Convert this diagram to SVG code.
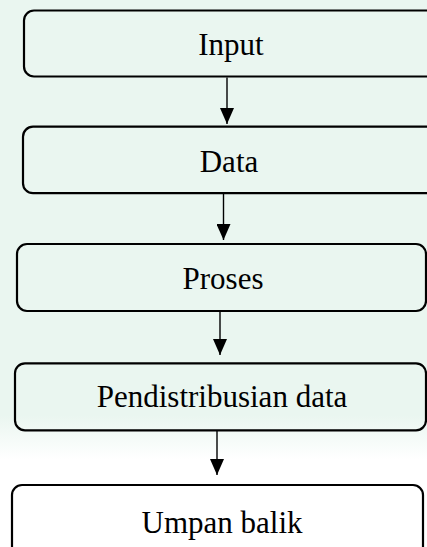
<svg xmlns="http://www.w3.org/2000/svg" width="427" height="547" viewBox="0 0 427 547">
<defs>
<linearGradient id="bg" x1="0" y1="0" x2="0" y2="1">
<stop offset="0" stop-color="#eaf6f0"/>
<stop offset="0.76" stop-color="#eaf6f0"/>
<stop offset="0.84" stop-color="#ffffff"/>
<stop offset="1" stop-color="#ffffff"/>
</linearGradient>
<marker id="ah" markerWidth="16" markerHeight="14" refX="16" refY="7" orient="auto" markerUnits="userSpaceOnUse" viewBox="0 0 16 14">
<path d="M0,0 L16,7 L0,14 Z" fill="#000"/>
</marker>
<style>
.box{fill:none;stroke:#000;stroke-width:2.2}
.lbl{font-family:"Liberation Serif","Times New Roman",serif;font-size:31px;fill:#000;text-anchor:middle}
.con{stroke:#000;stroke-width:1.4;fill:none}
</style>
</defs>
<rect width="427" height="547" fill="url(#bg)"/>
<g id="n1"><rect class="box" x="24" y="10.5" width="430" height="66" rx="10"/><text class="lbl" x="231" y="55">Input</text></g>
<g id="n2"><rect class="box" x="23" y="126.7" width="430" height="66.5" rx="10"/><text class="lbl" x="229" y="171.5">Data</text></g>
<g id="n3"><rect class="box" x="17" y="244" width="409" height="67" rx="10"/><text class="lbl" x="223" y="289">Proses</text></g>
<g id="n4"><rect class="box" x="15" y="363.3" width="411" height="67" rx="10"/><text class="lbl" x="222" y="406.5">Pendistribusian data</text></g>
<g id="n5"><rect class="box" x="12" y="485" width="411" height="80" rx="10"/><text class="lbl" x="222" y="533">Umpan balik</text></g>
<g id="connectors">
<line class="con" x1="227" y1="77.5" x2="227" y2="124" marker-end="url(#ah)"/>
<line class="con" x1="223.5" y1="194" x2="223.5" y2="240" marker-end="url(#ah)"/>
<line class="con" x1="220" y1="312" x2="220" y2="355" marker-end="url(#ah)"/>
<line class="con" x1="217" y1="431" x2="217" y2="475" marker-end="url(#ah)"/>
</g>
</svg>
